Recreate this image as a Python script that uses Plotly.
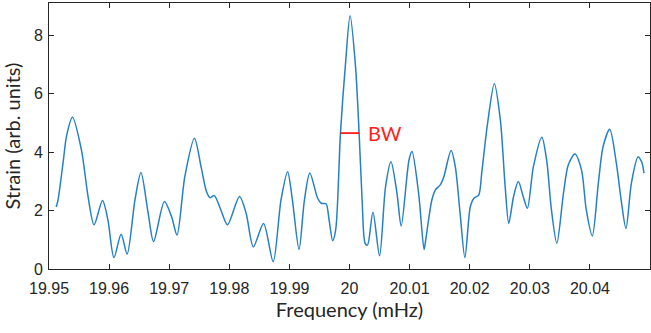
import plotly.graph_objects as go

# Frequency (mHz) and strain (arb. units)
freq = [19.9512, 19.9515, 19.9524, 19.9529, 19.9539, 19.9554, 19.9565, 19.9575,
        19.9589, 19.9598, 19.9608, 19.9620, 19.9630, 19.9643, 19.9653, 19.9665,
        19.9674, 19.9692, 19.9704, 19.9713, 19.9726, 19.9742, 19.9753, 19.9762,
        19.9768, 19.9775, 19.9786, 19.9797, 19.9817, 19.9828, 19.9840, 19.9857,
        19.9873, 19.9886, 19.9897, 19.9905, 19.9916, 19.9925, 19.9934, 19.9947,
        19.9953, 19.9961, 19.9966, 19.9972, 19.9977, 19.9985, 19.9993, 20.0001,
        20.0010, 20.0016, 20.0021, 20.0026, 20.0030, 20.0039, 20.0050, 20.0060,
        20.0069, 20.0079, 20.0086, 20.0099, 20.0104, 20.0115, 20.0124, 20.0126,
        20.0137, 20.0143, 20.0151, 20.0157, 20.0169, 20.0176, 20.0184, 20.0192,
        20.0201, 20.0207, 20.0215, 20.0220, 20.0229, 20.0241, 20.0251, 20.0259,
        20.0265, 20.0273, 20.0281, 20.0289, 20.0296, 20.0306, 20.0320, 20.0328,
        20.0336, 20.0345, 20.0356, 20.0364, 20.0375, 20.0386, 20.0394, 20.0404,
        20.0414, 20.0422, 20.0433, 20.0444, 20.0452, 20.0460, 20.0469, 20.0480,
        20.0486, 20.0490]
strain = [2.12, 2.36, 3.73, 4.53, 5.19, 4.07, 2.48, 1.51,
          2.34, 1.68, 0.39, 1.19, 0.51, 2.36, 3.30, 1.91,
          0.94, 2.31, 1.79, 1.16, 3.16, 4.47, 3.50, 2.65,
          2.44, 2.51, 2.02, 1.51, 2.48, 1.91, 0.76, 1.56,
          0.25, 2.36, 3.33, 2.36, 0.67, 2.36, 3.28, 2.42,
          2.25, 2.23, 1.68, 0.97, 1.34, 4.65, 6.93, 8.66,
          6.93, 4.65, 2.36, 0.88, 0.82, 1.94, 0.45, 2.82,
          3.67, 2.59, 1.47, 3.73, 4.02, 2.59, 0.67, 0.88,
          2.36, 2.71, 2.88, 3.16, 4.05, 3.50, 1.91, 0.39,
          2.13, 2.42, 2.53, 3.28, 4.87, 6.34, 5.10, 2.82,
          1.56, 2.48, 2.99, 2.48, 2.08, 3.50, 4.51, 3.73,
          2.02, 0.88, 2.59, 3.56, 3.93, 3.39, 2.02, 1.13,
          2.93, 4.19, 4.78, 3.62, 2.36, 1.39, 2.93, 3.83,
          3.67, 3.28]

# Bandwidth marker (half-height width of the main peak)
bw_edges = [19.9985, 20.0016]
bw_level = 4.65
bw_label = "BW"

x_ticks = [19.95, 19.96, 19.97, 19.98, 19.99, 20.00, 20.01, 20.02, 20.03, 20.04]
x_tick_text = ["19.95", "19.96", "19.97", "19.98", "19.99", "20", "20.01", "20.02", "20.03", "20.04"]
y_ticks = [0, 2, 4, 6, 8]
y_tick_text = ["0", "2", "4", "6", "8"]

fig = go.Figure()
fig.add_trace(go.Scatter(x=freq, y=strain, mode="lines",
                         line=dict(color="#2580c6", width=1.5, shape="spline", smoothing=0.8),
                         showlegend=False, hoverinfo="skip"))
fig.add_trace(go.Scatter(x=bw_edges, y=[bw_level, bw_level], mode="lines",
                         line=dict(color="#ff0000", width=1.6),
                         showlegend=False, hoverinfo="skip"))
fig.add_annotation(x=20.0027, y=bw_level, text=bw_label, showarrow=False,
                   xanchor="left", yanchor="middle",
                   font=dict(family="Lato", size=20, color="#ff2020"))

axis_common = dict(showline=True, linecolor="#262626", linewidth=1, mirror="ticks",
                   ticks="inside", ticklen=5, tickcolor="#262626", showgrid=False,
                   zeroline=False,
                   tickfont=dict(family="Liberation Sans", size=16, color="#262626"))

fig.update_layout(
    width=651, height=333,
    margin=dict(l=49, r=1, t=3, b=64),
    paper_bgcolor="white", plot_bgcolor="white",
    xaxis=dict(range=[19.95, 20.05], tickvals=x_ticks, ticktext=x_tick_text,
               ticklabelstandoff=5,
               title=dict(text="Frequency (mHz)", font=dict(family="Lato", size=20, color="#262626"),
                          standoff=4),
               **axis_common),
    yaxis=dict(range=[0, 9.1], tickvals=y_ticks, ticktext=y_tick_text,
               ticklabelstandoff=2,
               title=dict(text="Strain (arb. units)", font=dict(family="Lato", size=20, color="#262626"),
                          standoff=8),
               **axis_common),
)
fig.write_html("out.html")
